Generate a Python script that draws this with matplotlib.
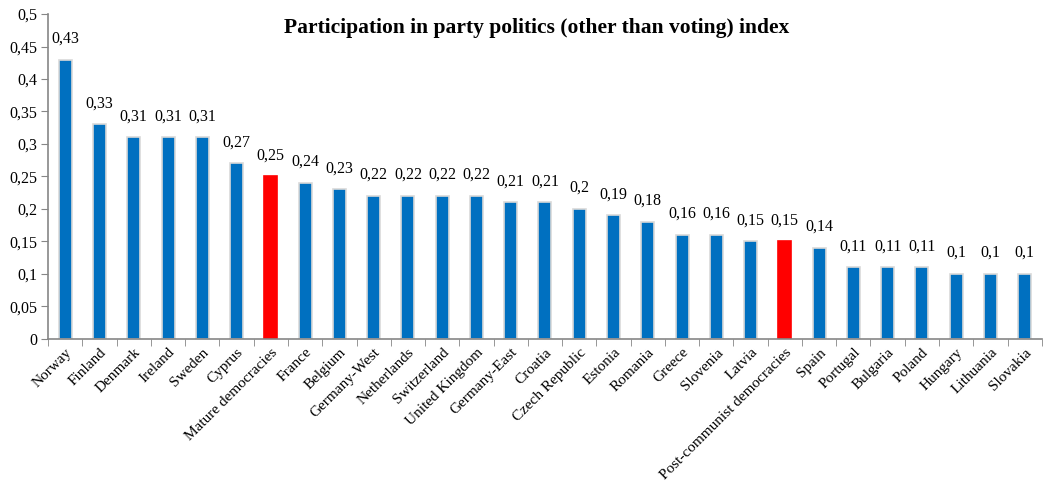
import matplotlib.pyplot as plt
import numpy as np

countries = ["Norway", "Finland", "Denmark", "Ireland", "Sweden", "Cyprus",
             "Mature democracies", "France", "Belgium", "Germany-West",
             "Netherlands", "Switzerland", "United Kingdom", "Germany-East",
             "Croatia", "Czech Republic", "Estonia", "Romania", "Greece",
             "Slovenia", "Latvia", "Post-communist democracies", "Spain",
             "Portugal", "Bulgaria", "Poland", "Hungary", "Lithuania", "Slovakia"]
values = [0.43, 0.33, 0.31, 0.31, 0.31, 0.27, 0.25, 0.24, 0.23, 0.22,
          0.22, 0.22, 0.22, 0.21, 0.21, 0.20, 0.19, 0.18, 0.16,
          0.16, 0.15, 0.15, 0.14, 0.11, 0.11, 0.11, 0.10, 0.10, 0.10]
highlight = ["Mature democracies", "Post-communist democracies"]

plt.rcParams["font.family"] = ["Liberation Serif", "DejaVu Serif"]

fig = plt.figure(figsize=(10.46, 4.84), dpi=100)
ax = fig.add_axes([0.046, 0.30, 0.950, 0.671])

x = np.arange(len(countries))
colors = ["#ff0000" if c in highlight else "#0070c0" for c in countries]
edges = ["#ff0000" if c in highlight else "#d9d9d9" for c in countries]
ax.bar(x, values, width=0.38, color=colors, edgecolor=edges, linewidth=1.2)

for xi, v in zip(x, values):
    lab = f"{v:g}".replace(".", ",")
    ax.text(xi, v + 0.02, lab, ha="center", va="bottom", fontsize=11.5)

ax.set_xlim(-0.5, len(countries) - 0.5)
ax.set_ylim(0, 0.5)
yt = np.arange(0, 0.501, 0.05).round(2)
ax.set_yticks(yt)
ax.set_yticklabels([f"{t:g}".replace(".", ",") for t in yt], fontsize=11.5)
ax.set_xticks(x)
ax.set_xticklabels(countries, rotation=45, ha="right", rotation_mode="anchor", fontsize=11)
ax.tick_params(axis="x", which="major", length=0, pad=5)
ax.set_xticks(np.arange(-0.5, len(countries), 1), minor=True)
ax.tick_params(axis="x", which="minor", length=5, color="#868686")
ax.tick_params(axis="y", length=5, color="#868686", pad=3)

for s in ["top", "right"]:
    ax.spines[s].set_visible(False)
for s in ["left", "bottom"]:
    ax.spines[s].set_color("#868686")
    ax.spines[s].set_linewidth(1.2)

fig.text(537 / 1046, 1 - 28 / 484, "Participation in party politics (other than voting) index",
         ha="center", va="center", fontsize=15.5, fontweight="bold")

fig.savefig("out.png", dpi=100)
